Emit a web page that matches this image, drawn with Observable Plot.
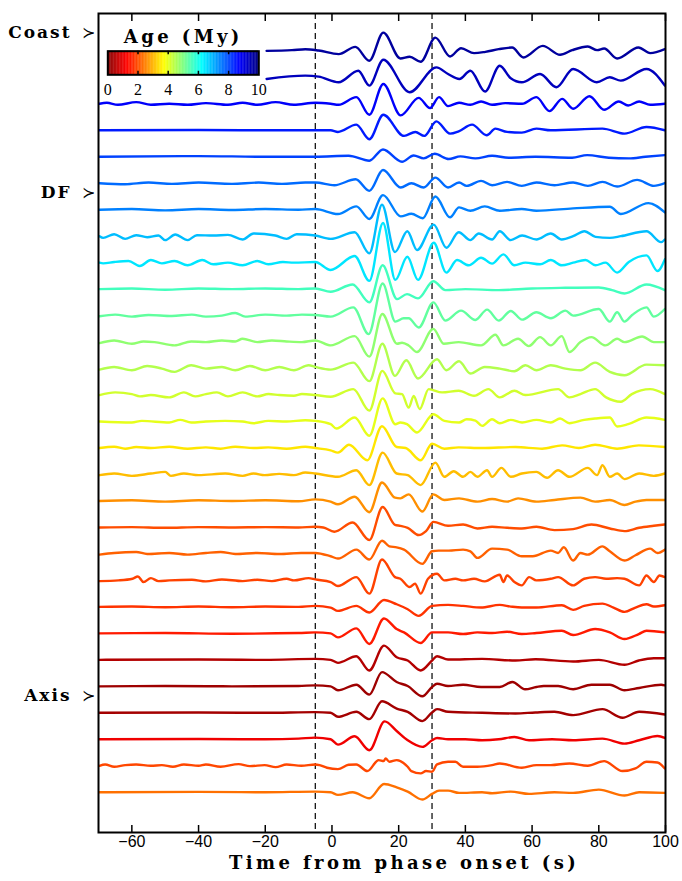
<!DOCTYPE html>
<html><head><meta charset="utf-8">
<script src="https://cdn.jsdelivr.net/npm/d3@7"></script>
<script src="https://cdn.jsdelivr.net/npm/@observablehq/plot@0.6"></script>
<style>
body{margin:0;background:#fff}
#chart{position:relative;width:682px;height:881px;background:#fff}
#chart > svg{position:absolute;left:0;top:0}
#chart > svg.legend{left:98px;top:13px}
g[font-weight="bold"]{letter-spacing:2px}
g[font-weight="bold"][font-size="18"]{letter-spacing:3.4px}
</style></head><body><div id="chart"></div>
<script>
// ---- data ----
const ages = [9.7, 9.4, 8.8, 8.5, 8.1, 7.7, 7.5, 6.9, 6.5, 5.6, 5.3, 4.85, 4.5, 4.2, 4.0, 3.5, 3.1, 2.65, 2.0, 2.2, 1.9, 1.75, 1.5, 0.5, 0.3, 0.35, 1.1, 1.95, 2.35];
// each trace: time (s), amplitude pairs (amplitude: 80 = one trace spacing)
const waves = [
[-19.6,0,-12,2,-8,5,-4,1,2,-10,7,12,11.2,-30,15.4,55,20.5,-23,23.3,-18,26.6,-33,31,40,35.4,-17,38.7,8,42.6,-7,46,-3,50,5,54,10,57.4,-20,63.2,15,68.4,-12,72,2,76.7,13,79.5,2,81.6,7,85.5,-23,91.9,10,95.4,-7,99.8,5],
[-19.6,-5,-8,5,-4,2,2,-15,7.9,20,11.2,-25,15.4,53,23.3,-45,31.3,30,34.8,10,38.2,-5,41.5,20,45.9,-43,50.3,35,53.6,-3,56.9,-15,62.4,10,67.3,-30,72.3,25,79.4,-15,83.3,0,86.6,-10,94.3,25,99.8,-25],
[-69.7,0,-67.5,3,-64.2,-3,-58.7,5,-54.3,-3,-48.8,0,-43.3,-3,-37.8,2,-31.2,-3,-26.8,3,-22.4,-3,-16.9,5,-11.4,-3,-5,3,-0.4,0,2,-3,7.3,20,11.2,-33,15.4,60,20.6,-35,26,18,29.4,-13,32.1,20,34.8,-7,38.1,3,41.5,-3,44.7,7,48,-3,52,2,57,0,61.3,20,65.2,-22,69,15,72.3,-15,77.2,23,81.6,-18,86,7,88.8,-5,92.1,7,95.4,-3,99.8,0],
[-69.7,0,-40,1,-20,0,-5,0,-0.4,0,1.8,-5,7.3,17,11.2,-27,15.4,47,21.6,-17,25,-5,27.7,-17,31.3,27,35.4,-10,38,-3,42,17,46.4,-15,49,5,52.5,-5,56.9,-7,61.3,5,65.6,0,81.1,5,87.7,-10,94.3,10,99.8,0],
[-69.7,0,-40,2,-20,0,-5,0,5,3,11.2,-12,15.3,22,21,-15,24.5,4,27.5,-5,30.8,9,35,-7,38.5,1,43,-5,48,3,53,-3,61,0,72,-3,76.5,5,83,-3,89,-5,94,0,99.8,5],
[-69.7,0,-62,-3,-55,2,-48,-2,-40,2,-30,-2,-22,2,-15,-2,-8,2,-5,2,0.7,-6,7.1,12,11.2,-23,15.3,40,20.6,-13,23.8,0,27.5,-13,31,17,34.8,-13,38.1,2,40.4,-8,44.7,7,48,-6,52.5,4,56.9,-8,61.3,2,66.7,-6,72.3,2,76.7,-8,81.1,4,85.5,-10,91.5,10,96.5,-8,99.8,0],
[-69.7,0,-60,2,-50,-2,-40,2,-30,-1,-20,2,-10,0,-5,2,1.8,-13,7.3,10,11.2,-28,15.3,44,20.6,-20,23.8,-12,27.2,-26,31,40,35.4,-23,38.1,7,41.5,-3,45.8,10,50.3,-3,56.9,2,61.3,-3,72.3,4,83.3,9,86.6,-13,94.9,20,99.8,-8],
[-69.7,0,-68.6,-5,-65.3,6,-62,-8,-58.7,3,-55.4,-3,-52,2,-50,-12,-47,5,-43.3,-12,-40.5,3,-35.6,2,-31.2,4,-26.8,-10,-23.5,8,-17,2,-13.6,-8,-10.6,6,-5,2,-0.4,-8,6.8,12,11.2,-52,15,95,18.9,-48,22.6,15,25.5,-42,30.5,35,34.3,-35,38,12,41.5,-12,44,8,48,-10,50.3,15,53.6,-12,57,2,61.3,-10,65.6,8,68.9,-10,72.3,0,75.7,15,79,-2,83.3,-5,86.6,0,94.3,15,98.7,-18,99.8,-10],
[-69.7,0,-68.6,-2,-65.3,2,-61,5,-57.6,-10,-54.3,8,-51,-2,-47.2,5,-43.3,-8,-38.9,8,-35.6,-5,-31.2,0,-26.8,-8,-22.4,5,-19.1,-5,-14.7,2,-11.4,0,-5,2,-0.4,-22,6.8,20,11.2,-55,15.3,120,19,-52,22.6,18,25.8,-52,30.5,60,34.3,-30,37.5,8,41,-8,44.7,15,48,-3,51.4,25,54.7,-8,58,0,62.4,-5,65.6,8,68.9,-8,72.3,0,76,8,79,-8,82,0,85.5,-30,89,2,94.3,22,97.6,-25,99.8,10],
[-69.7,0,-60,2,-50,-2,-40,2,-30,0,-20,2,-10,0,-5,2,-0.4,-8,6.2,14,11.2,-40,15.2,72,19.5,-30,22.5,-15,25.8,-28,30.4,24,34,-3,40,0,50,-3,60,2,70,4,80,5,84,-3,87.7,-13,94.3,14,99.8,-3],
[-69.7,-2,-65,3,-60,-3,-55,2,-48,-1,-42,3,-37.8,-3,-33,0,-29,8,-26,-3,-20,3,-13.6,0,-9,3,-5,2,-0.4,-3,6.4,25,11,-56,15.2,97,19,-18,21.5,-8,23,-8,26,-36,30.4,40,34,-15,38.7,15,43,-13,46.5,18,50,-15,53.6,14,57,-12,61.3,10,65.6,-8,70,15,72.3,0,80,20,83.3,-18,85.5,10,87.7,-18,90,2,94.3,25,96.5,-3,99.8,20],
[-69.7,-3,-65.3,5,-60,-5,-56.5,2,-53.2,0,-47.2,-10,-42.2,2,-37.8,0,-33,5,-29,2,-26.8,10,-22.4,0,-18,5,-13.6,2,-9,0,-5,5,-0.4,-10,6.8,18,11.2,-44,15.1,85,19.5,-5,21,-2,23,-10,25.5,-30,30.4,40,33.5,-5,38,0,44.7,-10,49,22,51.4,-10,55.8,10,59,-12,62.4,15,65.6,-10,68.9,18,71.2,-30,74.5,0,77.8,15,82,-10,85.5,10,87.7,0,93,17,96.5,0,99.8,0],
[-69.7,-3,-65.3,5,-60,-5,-55.4,8,-51,0,-47.2,-10,-42.2,10,-37.8,0,-33,5,-29,-5,-24.6,8,-20,-5,-15.8,5,-11.4,-5,-7,10,-5,5,-0.4,-3,6.4,18,11.2,-38,15.1,75,18.9,-22,22.3,25,25.8,-30,31.5,28,34.3,-5,38.1,22,41.5,-15,45.8,5,50.3,0,54.7,-8,58,10,61.3,-5,65.6,10,70,0,74.5,-5,78.9,18,83.3,-10,87.7,-20,94.3,12,99.8,10],
[-69.7,0,-65,8,-60,3,-57.6,-4,-54.3,0,-48.8,-7,-44.4,8,-41,-4,-37.8,3,-34.5,8,-31.2,-4,-26.8,8,-22.4,-4,-19,3,-15.8,0,-11.4,-2,-9,3,-5,0,-0.4,-5,6.4,18,11.2,-47,15.1,73,19,5,21,3,23,-38,24.5,-3,26.3,-42,29,18,33,8,38,13,42.6,-2,46.9,18,50.3,-7,54.7,13,58,0,67.8,18,71.2,-7,74.5,3,78.9,18,82.2,-7,86.6,-20,89.9,3,95.4,18,99.8,3],
[-69.7,0,-60,-3,-57,2,-48.8,-3,-45.5,5,-42.2,-3,-37.8,0,-32,2,-26.8,0,-23.5,-5,-19.1,2,-13.6,0,-8,4,-5,2,-0.4,-8,1.3,-21,6.8,12,11.2,-43,15.2,70,19,-8,20.5,-3,22.5,-8,25.5,-33,30.4,22,33.7,2,38.1,-3,40.4,7,43,3,45,-13,48,7,50.3,-5,53.6,5,57,-3,61.3,5,65.6,-3,68.4,9,71.2,-5,75.6,5,78.9,9,83.3,12,85.5,-15,88.8,-8,94.3,12,99.8,5],
[-69.7,0,-65.3,4,-62,-2,-58.7,3,-54.3,0,-48.8,4,-43.3,-2,-37.8,2,-33.4,-2,-29,4,-23.5,0,-19.1,2,-13.6,-2,-8,4,-5,0,-0.4,-7,1.8,-14,5.1,10,10.6,-37,15,66,19.4,3,22.1,0,26.6,-37,30,13,33.7,-2,38,2,45,0,55,3,63,-2,69,8,74,0,78.9,10,85.5,-2,92,8,99.8,3],
[-69.7,-2,-65.3,3,-60,-4,-54.3,3,-50,8,-48.3,-4,-44.4,3,-40,-2,-32,3,-26.8,-4,-23.5,3,-20.2,-2,-15.8,2,-11.4,-2,-8,6,-5,3,1.8,-7,7.3,13,11.2,-32,15.2,66,19.4,3,22.7,-2,26.6,-32,31,36,33.7,-7,36.5,10,39.3,-7,41.5,8,43.6,-7,46.5,13,48,-7,50.8,20,53.6,-7,56.9,3,61.3,8,64.5,-10,67.8,13,71.2,-7,76.7,20,79.5,-2,81.1,28,83.3,-7,85.5,3,87.7,-14,92.1,3,96.5,-4,99.8,3],
[-69.7,0,-60,2,-50,-2,-40,2,-30,0,-20,2,-10,-1,-5,5,-0.4,-2,1.8,-10,6.8,13,11.2,-34,15,56,18.9,10,20.5,8,23,20,27.1,-32,30.4,20,33.7,3,38.1,8,43.6,-2,48,6,52.5,-2,55.8,8,61.3,-2,66.7,3,74.5,10,78.9,-2,83.3,3,87.7,-12,91,-2,94.3,3,99.8,3],
[-69.7,0,-60,1,-50,-1,-40,1,-30,0,-20,1,-10,0,-5,2,-2.6,0,0.7,-13,6.2,15,11.2,-38,15.2,62,18.9,8,20.5,5,22.7,-1,26,-23,28.2,-11,30.4,17,34.8,5,39.3,9,43.6,-3,48,2,52.5,-1,56.9,-3,61.3,2,66.7,-8,72.3,-5,77.8,9,83.3,-3,87.7,-11,92.1,-1,96.5,5,99.8,9],
[-69.7,-2,-65.3,3,-58.7,6,-55.4,0,-48.8,3,-43.3,-2,-37.8,3,-33.4,6,-29,0,-22.4,3,-15.8,0,-9.2,3,-5,3,-0.4,-7,1.8,-14,7.3,13,11.2,-17,15,40,17.2,23,19.4,20,21.6,13,27.1,-30,30,8,32,10,35,10,39.3,13,41.5,8,43.6,-12,48,16,52.5,13,56.9,-7,60.2,-7,65.6,10,67.8,3,69.5,20,72.3,-20,74.5,3,76.7,-2,81.1,23,83.3,8,87.7,-20,91,-4,95.4,16,97.6,3,99.8,13],
[-69.7,-2,-64,0,-59.8,5,-58.2,12,-56.5,-5,-54.3,7,-52,-2,-48.8,0,-42,2,-37.8,-3,-33,3,-26.8,-2,-22.4,2,-18,-2,-13.6,5,-11.4,0,-7,7,-5,3,-0.4,-5,1.8,-17,7.3,10,11.2,-40,15,63,18.9,10,20.5,5,23.3,-20,24.9,-10,26.6,-40,28.8,5,31.5,20,33.7,0,37,5,39.3,0,42.6,5,45.8,-3,50.3,17,51.4,-5,52.5,15,54.7,-5,56.9,-15,59.1,10,61.3,0,65.6,5,67.8,10,72.3,-15,75.6,5,78.9,10,82.2,5,85.5,7,87.7,5,92.1,-15,94.3,15,96.5,-5,98.2,15,99.8,10],
[-69.7,0,-60,1,-50,-1,-40,1,-30,-1,-20,1,-10,0,-5,3,-0.4,-2,1.8,-12,7.3,3,11.2,-17,15.6,21,19.4,8,22.7,-7,26,-27,30,3,34.8,6,39.3,3,44.7,-2,50.3,6,53.6,1,56.9,-2,61.3,-2,68.9,5,72.3,-9,75.6,3,81.1,10,84.4,-2,87.7,-15,91,-2,94.3,8,96.5,1,99.8,5],
[-69.7,0,-50,1,-30,-1,-10,1,-5,3,-0.4,0,1.8,-12,7.3,15,11.2,-32,15.6,45,19.4,13,21.6,3,26.6,-29,30,3,34.8,3,39.3,-2,43.6,3,48,1,52.5,5,56.9,-2,61.3,1,68.9,8,72.3,-5,78.9,13,83.3,3,87.7,-17,92,-2,94.3,8,99.8,3],
[-69.7,0,-40,1,-20,0,-5,3,-0.4,0,1.8,-9,7.3,11,11.2,-32,15.6,43,19.4,8,22.7,-2,26.6,-32,30,-2,31.5,11,34.8,1,45,3,55,-2,61,2,72.3,-5,80,0,87.7,-15,92,-2,96.5,5,99.8,5],
[-69.7,0,-50,1,-30,0,-10,1,-5,3,-0.4,0,1.8,-12,7.3,5,11.2,-25,15,43,19.4,13,22.7,1,27.1,-30,30,-2,31.5,8,34.8,1,39.3,5,44.7,-2,50.3,-2,54.1,13,57.9,-9,61.3,-2,63.5,1,67.8,1,72.3,-9,77.8,5,83.3,5,87.7,-12,92.1,-5,98.7,5,99.8,3],
[-69.7,0,-40,1,-20,0,-5,2,-0.4,0,1.8,-12,7.3,3,11.2,-19,15,35,19.4,13,22.7,3,27.1,-25,30,1,31.5,11,34.8,3,45,0,55,-2,61,1,66.7,3,72.3,-7,81.1,11,87.1,-15,92.1,3,99.8,-5],
[-69.7,0,-40,1,-20,0,-10,2,-5,5,-0.4,0,1.8,-16,6.8,9,11.2,-33,15.8,54,19.4,25,22.7,-3,27.1,-23,30,-3,31.5,4,34.8,0,40,0,45,-3,50,0,54.7,7,59.1,-3,66,0,72.3,-3,81.1,2,87.7,-13,92.1,-3,97.6,10,99.8,4],
[-69.7,0,-68,4,-65.3,-3,-62,2,-58.7,4,-54.3,0,-51,2,-47.7,-3,-44.4,4,-40,0,-37.8,4,-33.4,-3,-28,5,-24.6,-1,-20.2,2,-16.9,-4,-13.6,4,-9.2,0,-5,4,-3.7,2,-1.5,-6,1.8,-10,5,3,7.3,4,10.6,-16,14,17,15.5,14,16.1,22,17.2,12,19.4,17,22.7,-3,23.8,-16,26.6,-23,28.2,-16,30,-18,31.5,4,34.8,12,37,12,39.3,-3,43.6,-3,48,2,50.3,7,56.9,-6,61.3,2,65.6,2,71.2,7,76.7,0,81.6,14,87.1,-16,91,-8,94.3,12,97.6,10,99.8,-8],
[-69.7,0,-40,1,-20,0,-5,2,-0.4,0,1.8,-8,6.2,0,11.2,-18,15.6,25,19.4,15,22.7,2,27.1,-22,30,-5,32.1,5,34.8,5,38.1,-2,45,0,48,-3,53.6,2,59.1,-5,66.7,0,72.3,-2,80,8,87.7,-10,92.1,0,99.8,-2]
];
const AMP = 80;
const yTickPos = [-0.69, 5.35, 24.35];
const yTickLabels = ["Coast", "DF", "Axis"];
const xTicks = [-60, -40, -20, 0, 20, 40, 60, 80, 100];
const markerTimes = [-5, 30];
const xLabel = "Time from phase onset (s)";
const legendTitle = "Age (My)";
const legendTicks = [0, 2, 4, 6, 8, 10];
const legendInner = [2, 4, 6, 8];
const jetAges = [0, 1.25, 3.75, 6.25, 8.75, 10];
const jetColors = ["#800000", "#ff0000", "#ffff00", "#00ffff", "#0000ff", "#000080"];

// ---- build ----
const rows = waves.flatMap((w, i) => {
  const r = [];
  for (let k = 0; k < w.length; k += 2) r.push({t: w[k], y: i - w[k + 1] / AMP, age: ages[i], trace: i});
  return r;
});
const jet = d3.scaleLinear(jetAges, jetColors);
const colorOpts = {type: "linear", domain: [0, 10], interpolate: (t) => jet(t * 10)};
const boldSerif = "'DejaVu Serif', serif";

const main = Plot.plot({
  width: 682, height: 881,
  marginTop: 13, marginBottom: 49, marginLeft: 98, marginRight: 17,
  style: {fontFamily: "'Liberation Sans', Arial, sans-serif", fontSize: "16px", color: "#000", background: "#fff", overflow: "visible"},
  x: {domain: [-70, 100], label: null},
  y: {domain: [-1.41, 29.52], reverse: true, axis: null},
  color: colorOpts,
  marks: [
    Plot.ruleX(markerTimes, {stroke: "#000", strokeWidth: 1.2, strokeDasharray: "6,4"}),
    Plot.line(rows, {x: "t", y: "y", z: "trace", stroke: "age", strokeWidth: 2.4, curve: "monotone-x"}),
    Plot.frame({stroke: "#000", strokeWidth: 2}),
    Plot.axisX(xTicks, {anchor: "bottom", tickSize: -7, tickPadding: 10, label: null, strokeWidth: 1.5, fontSize: 16, fontFamily: "'Liberation Sans', Arial, sans-serif"}),
    Plot.axisX(xTicks, {anchor: "top", tickSize: -7, tickFormat: () => "", label: null, strokeWidth: 1.5}),
    Plot.text(yTickLabels, {y: (d, i) => yTickPos[i], frameAnchor: "left", dx: -27, textAnchor: "end", fontFamily: boldSerif, fontWeight: "bold", fontSize: 17}),
    Plot.text(yTickLabels, {y: (d, i) => yTickPos[i], text: () => "\u227B", frameAnchor: "left", dx: -3, textAnchor: "end", fontFamily: "'DejaVu Sans'", fontSize: 16}),
    Plot.text([xLabel], {frameAnchor: "bottom", dx: 22, dy: 36, fontFamily: boldSerif, fontWeight: "bold", fontSize: 18})
  ]
});

const stripes = d3.range(0, 10, 0.05);
const legend = Plot.plot({
  width: 170, height: 85,
  marginLeft: 9.3, marginRight: 9.7, marginTop: 37.7, marginBottom: 23.7,
  style: {fontFamily: "'Liberation Serif', serif", fontSize: "16px", color: "#000", background: "transparent", overflow: "visible"},
  x: {domain: [0, 10], label: null},
  y: {domain: [0, 1], axis: null},
  color: colorOpts,
  marks: [
    Plot.rect(stripes, {x1: (d) => d, x2: (d) => Math.min(10, d + 0.07), y1: 0, y2: 1, fill: (d) => d + 0.025}),
    Plot.ruleX(legendInner, {y1: 0, y2: 0.15, stroke: "#000", strokeWidth: 1.5}),
    Plot.ruleX(legendInner, {y1: 0.85, y2: 1, stroke: "#000", strokeWidth: 1.5}),
    Plot.frame({stroke: "#000", strokeWidth: 2}),
    Plot.axisX(legendTicks, {tickSize: 0, tickPadding: 9, label: null, fontSize: 16, fontFamily: "'Liberation Serif', serif"}),
    Plot.text([legendTitle], {frameAnchor: "top", dy: -21, fontFamily: boldSerif, fontWeight: "bold", fontSize: 18})
  ]
});
legend.classList.add("legend");

const chart = document.getElementById("chart");
chart.appendChild(main);
chart.appendChild(legend);
</script></body></html>
